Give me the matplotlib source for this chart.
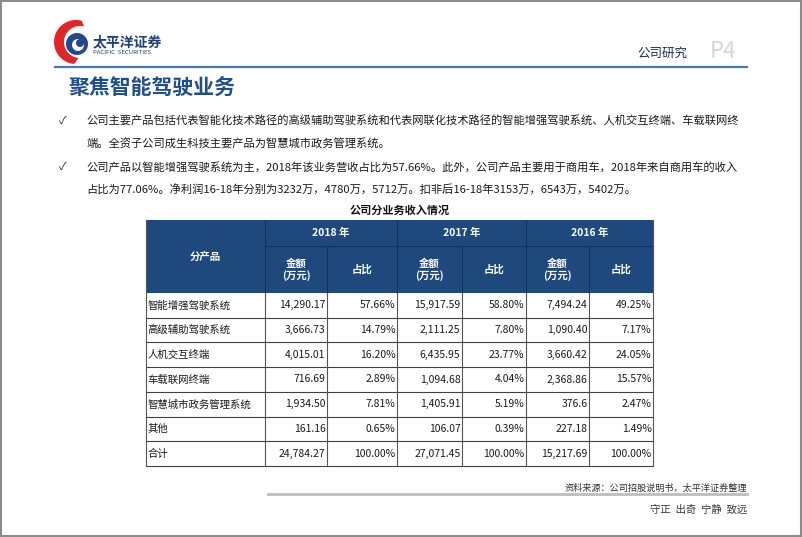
import numpy as np
import matplotlib.pyplot as plt
from matplotlib.patches import Rectangle, Polygon, Circle

plt.rcParams['font.family'] = ['Noto Sans CJK SC', 'DejaVu Sans']

# Data
products = ["智能增强驾驶系统", "高级辅助驾驶系统", "人机交互终端", "车载联网终端",
            "智慧城市政务管理系统", "其他", "合计"]
years = ["2018 年", "2017 年", "2016 年"]
amount_2018 = ["14,290.17", "3,666.73", "4,015.01", "716.69", "1,934.50", "161.16", "24,784.27"]
share_2018 = ["57.66%", "14.79%", "16.20%", "2.89%", "7.81%", "0.65%", "100.00%"]
amount_2017 = ["15,917.59", "2,111.25", "6,435.95", "1,094.68", "1,405.91", "106.07", "27,071.45"]
share_2017 = ["58.80%", "7.80%", "23.77%", "4.04%", "5.19%", "0.39%", "100.00%"]
amount_2016 = ["7,494.24", "1,090.40", "3,660.42", "2,368.86", "376.6", "227.18", "15,217.69"]
share_2016 = ["49.25%", "7.17%", "24.05%", "15.57%", "2.47%", "1.49%", "100.00%"]

bullets = [
    ["公司主要产品包括代表智能化技术路径的高级辅助驾驶系统和代表网联化技术路径的智能增强驾驶系统、人机交互终端、车载联网终",
     "端。全资子公司成生科技主要产品为智慧城市政务管理系统。"],
    ["公司产品以智能增强驾驶系统为主，2018年该业务营收占比为57.66%。此外，公司产品主要用于商用车，2018年来自商用车的收入",
     "占比为77.06%。净利润16-18年分别为3232万，4780万，5712万。扣非后16-18年3153万，6543万，5402万。"],
]

NAVY = "#1f497d"
TITLE_BLUE = "#1f4e8c"

fig = plt.figure(figsize=(8.02, 5.37), dpi=100)
ax = fig.add_axes([0, 0, 1, 1])
ax.set_xlim(0, 802)
ax.set_ylim(537, 0)
ax.axis("off")

# page frame
ax.add_patch(Rectangle((1, 1), 800, 535, fill=False, ec="#8c8c8c", lw=1.5))

# logo
t = np.linspace(np.radians(75), np.radians(265), 60)
outer = np.c_[76 + 22 * np.cos(t), 42 - 22 * np.sin(t)]
inner = np.c_[80 + 16 * np.cos(t[::-1]), 42 - 16 * np.sin(t[::-1])]
ax.add_patch(Polygon(np.vstack([outer, inner]), closed=True, fc="#e0262b", ec="none"))
ax.add_patch(Circle((77, 44), 11, fc="#23488a", ec="none"))
ax.add_patch(Circle((78, 45), 6, fc="white", ec="none"))
ax.add_patch(Circle((80, 43), 4, fc="#23488a", ec="none"))
ax.text(93, 42, "太平洋证券", fontsize=10, fontweight="bold", color="#1f3f7a", va="center")
ax.text(93, 52.5, "PACIFIC  SECURITIES", fontsize=4.3, color="#1f3f7a", va="center")

# header line and labels
ax.plot([55, 747], [67, 67], color="#4a78bd", lw=1.6)
ax.text(637, 53, "公司研究", fontsize=9, color="#1c2f55", va="center")
ax.text(710, 52, "P4", fontsize=16, color="#d6d6d6", va="center")
ax.text(68, 87, "聚焦智能驾驶业务", fontsize=15, fontweight="bold", color=TITLE_BLUE, va="center")

# bullet text
line_y = [121, 144, 167, 190]
k = 0
for para in bullets:
    ax.text(59, line_y[k], "✓", fontsize=8, color="#222222", va="center")
    for line in para:
        ax.text(86, line_y[k], line, fontsize=8.1, color="#1a1a1a", va="center")
        k += 1

# table
ax.text(400, 210, "公司分业务收入情况", fontsize=8, fontweight="bold", color="#111111",
        ha="center", va="center")

xs = [146, 265, 327, 397, 462, 526, 589, 653]
y_top, y_mid, y_head = 220, 246, 293
row_h = (466 - y_head) / len(products)

ax.add_patch(Rectangle((xs[0], y_top), xs[-1] - xs[0], y_head - y_top, fc=NAVY, ec="none"))
hl = "#14325a"
ax.plot([xs[1], xs[1]], [y_top, y_head], color=hl, lw=0.8)
for i in (3, 5):
    ax.plot([xs[i], xs[i]], [y_top, y_head], color=hl, lw=0.8)
for i in (2, 4, 6):
    ax.plot([xs[i], xs[i]], [y_mid, y_head], color=hl, lw=0.8)
ax.plot([xs[1], xs[-1]], [y_mid, y_mid], color=hl, lw=0.8)

hdr = dict(fontsize=7.5, fontweight="bold", color="white", ha="center", va="center")
ax.text((xs[0] + xs[1]) / 2, 257, "分产品", **hdr)
for j, yr in enumerate(years):
    ax.text((xs[1 + 2 * j] + xs[3 + 2 * j]) / 2, (y_top + y_mid) / 2, yr, **hdr)
    ax.text((xs[1 + 2 * j] + xs[2 + 2 * j]) / 2, (y_mid + y_head) / 2, "金额\n(万元)",
            linespacing=1.15, **hdr)
    ax.text((xs[2 + 2 * j] + xs[3 + 2 * j]) / 2, (y_mid + y_head) / 2, "占比", **hdr)

cols = [amount_2018, share_2018, amount_2017, share_2017, amount_2016, share_2016]
for r, name in enumerate(products):
    yc = y_head + (r + 0.5) * row_h
    ax.text(xs[0] + 1.5, yc, name, fontsize=7.5, color="#1a1a1a", va="center")
    for c, col in enumerate(cols):
        ax.text(xs[c + 2] - 1.5, yc, col[r], fontsize=7.5, color="#1a1a1a",
                ha="right", va="center")

y_bot = y_head + row_h * len(products)
for r in range(1, len(products) + 1):
    yy = y_head + r * row_h
    ax.plot([xs[0], xs[-1]], [yy, yy], color="#404040", lw=0.8)
for x in xs:
    ax.plot([x, x], [y_head, y_bot], color="#555555", lw=0.8)
ax.plot([xs[0], xs[0]], [y_top, y_head], color="#555555", lw=0.8)
ax.plot([xs[-1], xs[-1]], [y_top, y_head], color="#555555", lw=0.8)

# footer
ax.text(747, 488.5, "资料来源：公司招股说明书，太平洋证券整理", fontsize=6.6, color="#333333",
        ha="right", va="center")
ax.plot([268, 747], [494, 494], color="#bdbdbd", lw=2)
ax.text(747, 510, "守正  出奇  宁静  致远", fontsize=7.5, color="#3a3a3a", ha="right", va="center")

fig.savefig("out.png", dpi=100)
